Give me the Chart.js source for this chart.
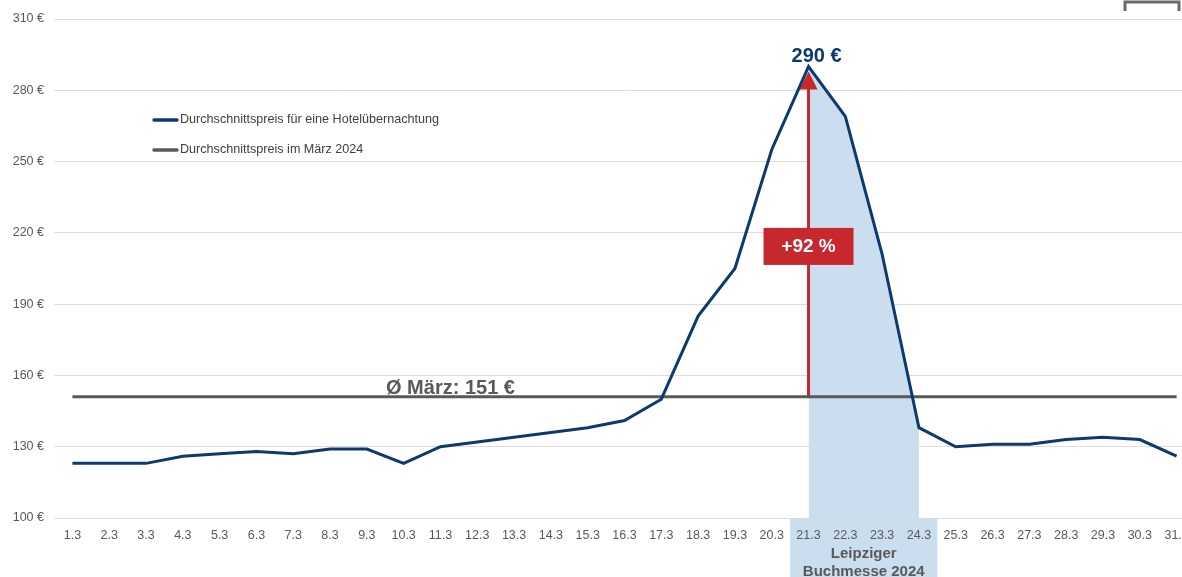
<!DOCTYPE html>
<html lang="de">
<head>
<meta charset="utf-8">
<title>Hotelpreise Leipzig März 2024</title>
<script src="https://cdn.jsdelivr.net/npm/chart.js@4/dist/chart.umd.min.js"></script>
<style>
  html, body { margin: 0; padding: 0; background: #fff; overflow: hidden; }
  #wrap { width: 1200px; height: 577px; }
</style>
</head>
<body>
<div id="wrap"><canvas id="priceChart" width="1200" height="577"></canvas></div>
<script>
const days = ["1.3","2.3","3.3","4.3","5.3","6.3","7.3","8.3","9.3","10.3","11.3","12.3","13.3","14.3","15.3","16.3",
  "17.3","18.3","19.3","20.3","21.3","22.3","23.3","24.3","25.3","26.3","27.3","28.3","29.3","30.3","31.3"];
const hotelPrice = [123,123,123,126,127,128,127,129,129,123,130,132,134,136,138,141,
  150,185,205,255,290,269,211,138,130,131,131,133,134,133,126];
const marchAvg = 151;
const messeDays = ["21.3","22.3","23.3","24.3"];
const yTicks = [100,130,160,190,220,250,280,310];
const legendLabels = ["Durchschnittspreis für eine Hotelübernachtung", "Durchschnittspreis im März 2024"];

const NAVY = "#0c3a6e", GREY = "#595959", RED = "#c6282d", SHADE = "#cadef0";
const FONT = "'Liberation Sans', Arial, Helvetica, sans-serif";

const peakIdx = hotelPrice.indexOf(Math.max(...hotelPrice));
const pctUp = Math.round((hotelPrice[peakIdx] / marchAvg - 1) * 100);
const messeShade = days.map((d, i) => messeDays.includes(d) ? hotelPrice[i] : null);

const annotations = {
  id: "annotations",
  beforeDraw(chart) {
    const { ctx, chartArea, scales: { x } } = chart;
    const step = x.getPixelForValue(1) - x.getPixelForValue(0);
    const i0 = days.indexOf(messeDays[0]), i1 = days.indexOf(messeDays[messeDays.length - 1]);
    const left = x.getPixelForValue(i0) - step / 2, right = x.getPixelForValue(i1) + step / 2;
    ctx.save();
    ctx.fillStyle = SHADE;
    ctx.fillRect(left, chartArea.bottom, right - left, chart.height - chartArea.bottom);
    ctx.fillStyle = GREY;
    ctx.font = "bold 15px " + FONT;
    ctx.textAlign = "center";
    ctx.textBaseline = "alphabetic";
    ctx.fillText("Leipziger", (left + right) / 2, 558);
    ctx.fillText("Buchmesse 2024", (left + right) / 2, 576);
    ctx.restore();
  },
  afterDatasetDraw(chart, args) {
    if (args.index !== 2) return;
    const { ctx, scales: { x, y } } = chart;
    const px = x.getPixelForValue(peakIdx);
    const yBase = y.getPixelForValue(marchAvg), yTop = y.getPixelForValue(hotelPrice[peakIdx]);
    ctx.save();
    ctx.strokeStyle = RED;
    ctx.lineWidth = 3;
    ctx.beginPath();
    ctx.moveTo(px, yBase);
    ctx.lineTo(px, yTop + 20);
    ctx.stroke();
    ctx.fillStyle = RED;
    ctx.beginPath();
    ctx.moveTo(px, yTop + 5);
    ctx.lineTo(px - 9, yTop + 23);
    ctx.lineTo(px + 9, yTop + 23);
    ctx.closePath();
    ctx.fill();
    ctx.restore();
  },
  afterDatasetsDraw(chart) {
    const { ctx, scales: { x, y } } = chart;
    const px = x.getPixelForValue(peakIdx);
    ctx.save();
    // peak label
    ctx.fillStyle = NAVY;
    ctx.font = "bold 20px " + FONT;
    ctx.textAlign = "center";
    ctx.textBaseline = "alphabetic";
    ctx.fillText(hotelPrice[peakIdx] + " €", px + 8, y.getPixelForValue(hotelPrice[peakIdx]) - 5);
    // percent box
    const by = y.getPixelForValue(214.5);
    ctx.fillStyle = RED;
    ctx.fillRect(px - 45, by - 18, 90, 37);
    ctx.fillStyle = "#fff";
    ctx.font = "bold 19px " + FONT;
    ctx.textBaseline = "middle";
    ctx.fillText("+" + pctUp + " %", px, by + 1);
    // average label
    ctx.fillStyle = GREY;
    ctx.font = "bold 20px " + FONT;
    ctx.textBaseline = "alphabetic";
    ctx.fillText("Ø März: " + marchAvg + " €", x.getPixelForValue(10) + 10, y.getPixelForValue(marchAvg) - 3);
    // legend
    ctx.font = "12.6px " + FONT;
    ctx.textBaseline = "middle";
    ctx.textAlign = "left";
    ctx.lineWidth = 3.5;
    ctx.lineCap = "round";
    [NAVY, GREY].forEach((c, i) => {
      const ly = 120 + i * 30;
      ctx.strokeStyle = c;
      ctx.beginPath();
      ctx.moveTo(154, ly);
      ctx.lineTo(177, ly);
      ctx.stroke();
      ctx.fillStyle = "#404040";
      ctx.fillText(legendLabels[i], 180, ly);
    });
    // cropped bracket at the top right
    ctx.strokeStyle = "#6a6a6a";
    ctx.lineWidth = 3;
    ctx.lineCap = "butt";
    ctx.beginPath();
    ctx.moveTo(1125, 11);
    ctx.lineTo(1125, 2);
    ctx.lineTo(1179, 2);
    ctx.lineTo(1179, 11);
    ctx.stroke();
    ctx.restore();
  }
};

new Chart(document.getElementById("priceChart"), {
  type: "line",
  data: {
    labels: days,
    datasets: [
      {
        label: legendLabels[0],
        data: hotelPrice,
        borderColor: NAVY,
        borderWidth: 3,
        pointRadius: 0,
        tension: 0,
        fill: false,
        order: 0
      },
      {
        label: legendLabels[1],
        data: days.map(() => marchAvg),
        borderColor: GREY,
        borderWidth: 3,
        pointRadius: 0,
        fill: false,
        order: 1
      },
      {
        label: "Buchmesse",
        data: messeShade,
        borderWidth: 0,
        borderColor: "rgba(0,0,0,0)",
        backgroundColor: SHADE,
        pointRadius: 0,
        spanGaps: false,
        fill: "start",
        order: 2
      }
    ]
  },
  options: {
    responsive: false,
    animation: false,
    devicePixelRatio: 1,
    layout: { padding: { top: 19, right: 5, left: 0, bottom: 0 } },
    plugins: { legend: { display: false }, tooltip: { enabled: false } },
    scales: {
      x: {
        offset: true,
        grid: { display: false },
        border: { display: false },
        ticks: { autoSkip: false, maxRotation: 0, color: GREY, padding: 2, font: { family: FONT, size: 12.5 } },
        afterFit(scale) { scale.height = 59; }
      },
      y: {
        min: yTicks[0],
        max: yTicks[yTicks.length - 1],
        afterBuildTicks(scale) { scale.ticks = yTicks.map(v => ({ value: v })); },
        grid: { color: "#dcdcdc", lineWidth: 1, drawTicks: false },
        border: { display: false },
        ticks: { color: GREY, padding: 10, font: { family: FONT, size: 12.5 }, callback: v => v + " €" },
        afterFit(scale) { scale.width = 54; }
      }
    }
  },
  plugins: [annotations]
});
</script>
</body>
</html>
